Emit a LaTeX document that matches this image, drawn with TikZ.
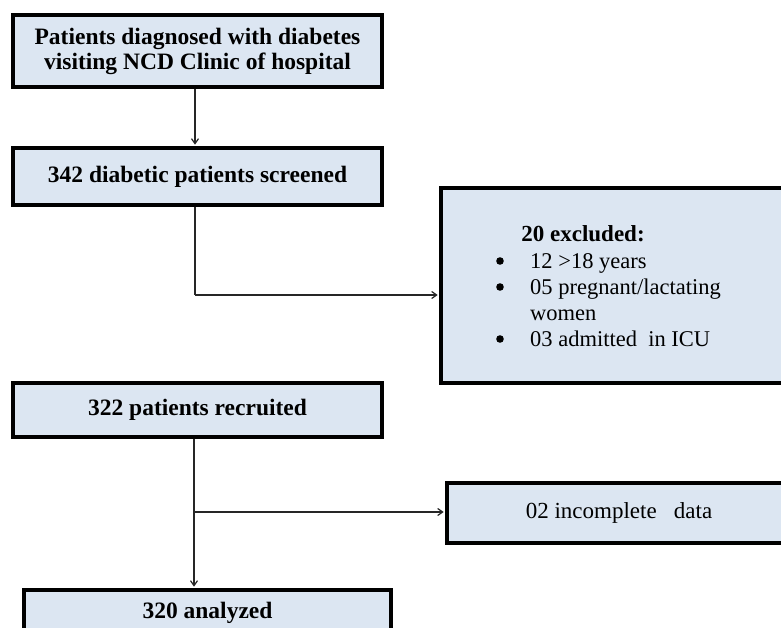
\documentclass[tikz,border=0pt]{standalone}
\usepackage{fontspec}
\setmainfont{Liberation Serif}
\usetikzlibrary{arrows.meta,calc}
\definecolor{boxfill}{RGB}{220,230,242}
\begin{document}
\begin{tikzpicture}[x=1pt,y=-1pt,
  box/.style={draw=black, line width=3.4pt, fill=boxfill, inner sep=0pt, align=center,
    font=\fontsize{23.5}{25}\selectfont\bfseries},
  plainbox/.style={box, font=\fontsize{23}{25}\selectfont},
  conn/.style={line width=1.2pt, draw=black!85},
  tip/.style={-{Straight Barb[length=5pt,width=7pt]}, shorten >=1.6pt},
  bulletdot/.style={fill=black}]
\useasboundingbox[fill=white] (0,0) rectangle (781,628);
\clip (0,0) rectangle (781,628);

\node[box, minimum width=369pt, minimum height=72pt] (b1) at (197.5,51)
  {Patients diagnosed with diabetes\\visiting NCD Clinic of hospital};
\node[box, minimum width=369pt, minimum height=57pt] (b2) at (197.5,176.5)
  {342 diabetic patients screened};
\node[box, minimum width=359pt, minimum height=195pt] (ex) at (620.5,285.5) {};
\node[font=\fontsize{23}{26}\selectfont\bfseries, anchor=base] (ext) at (583,242) {20 excluded:};
\node[font=\fontsize{22.5}{26}\selectfont, anchor=north west, align=left, inner sep=0pt] (exl) at (530,253)
  {12 >18 years\\
   05 pregnant/lactating\\
   women\\
   03 admitted\ \ in ICU};
\fill[bulletdot] (500,261) circle (3.8);
\fill[bulletdot] (500,287) circle (3.8);
\fill[bulletdot] (500,339) circle (3.8);
\node[box, minimum width=369pt, minimum height=54pt] (b4) at (197.5,410)
  {322 patients recruited};
\node[plainbox, minimum width=344pt, minimum height=60pt] (inc) at (619,513)
  {02 incomplete\ \ \ data};
\node[box, minimum width=367pt, minimum height=46pt] (b5) at (207.5,613)
  {320 analyzed};

\coordinate (j1) at (195,295);
\coordinate (j2) at (194,512);
\draw[conn,tip] (b1.south -| j1) -- (b2.north -| j1);
\draw[conn] (b2.south -| j1) -- (j1);
\draw[conn,tip] (j1) -- (ex.west |- j1);
\draw[conn,tip] (b4.south -| j2) -- (b5.north -| j2);
\draw[conn,tip] (j2) -- (inc.west |- j2);
\end{tikzpicture}
\end{document}
